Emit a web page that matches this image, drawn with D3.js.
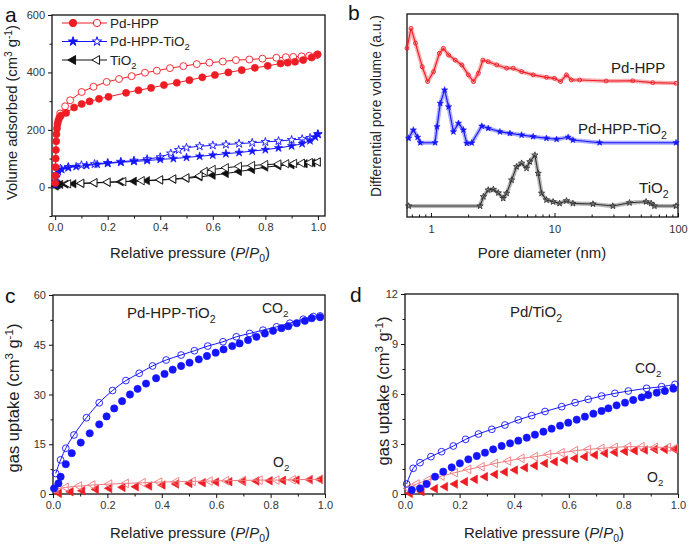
<!DOCTYPE html>
<html><head><meta charset="utf-8">
<script src="https://cdn.jsdelivr.net/npm/d3@7"></script>
<style>body{margin:0;background:#fff}svg{font-family:"Liberation Sans",Arial,sans-serif}</style>
</head><body><svg id="c" width="694" height="547"></svg>
<script>
// ================= DATA =================
// Panel a: N2 isotherms  [P/P0, cm3 g-1]
const aPdHppAds = [[0.0005,15],[0.001,40],[0.0015,70],[0.002,100],[0.003,130],[0.004,160],[0.005,185],[0.007,205],[0.009,220],[0.012,232],[0.016,242],[0.022,250],[0.042,259],[0.072,278],[0.101,290],[0.131,299],[0.167,308],[0.203,315],[0.27,329],[0.317,338],[0.365,346],[0.414,356],[0.463,364],[0.511,373],[0.56,383],[0.608,391],[0.659,400],[0.71,408],[0.76,416],[0.809,423],[0.858,431],[0.885,434],[0.913,437],[0.944,443],[0.976,452],[0.999,463]];
const aPdHppDes = [[0.995,460],[0.967,458],[0.938,456],[0.906,454],[0.878,453],[0.842,451],[0.789,448],[0.739,445],[0.688,443],[0.638,438],[0.587,434],[0.539,429],[0.488,422],[0.437,415],[0.387,406],[0.342,399],[0.291,387],[0.243,377],[0.196,367],[0.146,350],[0.101,332],[0.057,303],[0.038,282],[0.019,257]];
const aHppTiAds = [[0.001,8],[0.002,20],[0.004,35],[0.007,47],[0.012,55],[0.025,62],[0.05,68],[0.08,72],[0.12,76],[0.16,80],[0.2,83],[0.25,87],[0.3,90],[0.35,93],[0.4,97],[0.45,100],[0.5,104],[0.55,108],[0.6,112],[0.65,117],[0.7,121],[0.75,126],[0.8,131],[0.85,137],[0.9,144],[0.94,152],[0.97,162],[0.99,175],[1.0,185]];
const aHppTiDes = [[1.0,185],[0.97,172],[0.94,168],[0.9,165],[0.85,161],[0.8,158],[0.75,155],[0.7,152],[0.65,149],[0.6,146],[0.55,143],[0.5,138],[0.47,130],[0.44,118],[0.4,105],[0.35,98],[0.3,93],[0.25,89],[0.2,85],[0.15,81],[0.1,77],[0.05,71],[0.02,65]];
const aTiAds = [[0.002,4],[0.005,7],[0.01,9],[0.02,10],[0.04,11],[0.07,12],[0.1,13],[0.15,15],[0.2,17],[0.25,19],[0.3,21],[0.35,23],[0.4,25],[0.45,28],[0.5,31],[0.55,36],[0.6,42],[0.65,48],[0.7,55],[0.75,62],[0.8,70],[0.85,75],[0.9,78],[0.95,82],[0.98,85],[1.0,88]];
const aTiDes = [[1.0,88],[0.97,86],[0.94,84],[0.91,83],[0.88,82],[0.85,81],[0.8,79],[0.75,76],[0.7,73],[0.65,68],[0.6,62],[0.57,55],[0.55,40],[0.5,33],[0.45,29],[0.4,26],[0.33,23],[0.26,20],[0.2,18],[0.15,16],[0.1,14],[0.05,12]];
const aYTicks = [0,200,400,600];
const aYMinor = [-100,100,300,500];

// Panel b: pore size distributions  [nm, a.u.]
const bPdHpp = [[0.64,83.1],[0.69,93.0],[0.75,85.6],[0.85,74.0],[0.94,66.7],[1.05,71.6],[1.17,80.6],[1.26,83.1],[1.39,79.8],[1.57,77.3],[1.78,74.9],[2.01,70.0],[2.21,66.7],[2.42,70.8],[2.63,77.3],[2.91,76.5],[3.41,74.9],[4.10,73.3],[4.63,73.3],[5.42,71.6],[6.72,70.0],[8.61,68.8],[10.0,68.3],[11.2,66.7],[12.5,70.0],[13.7,67.5],[16.0,67.5],[26.2,67.0],[43,67.1],[62.4,66.2],[96.4,65.9]];
const bHppTi = [[0.66,38.8],[0.72,42.9],[0.78,39.3],[0.82,36.6],[1.08,36.6],[1.12,44.5],[1.19,56.0],[1.29,62.6],[1.39,54.3],[1.52,42.0],[1.67,46.2],[1.83,42.9],[1.95,36.3],[2.14,36.5],[2.58,44.8],[2.91,43.7],[3.62,42.0],[4.36,41.2],[5.42,40.4],[6.72,39.6],[8.61,38.8],[10.4,38.3],[12.9,39.3],[14.1,37.9],[23.2,36.6],[96.4,36.6]];
const bTi = [[0.66,5.4],[2.50,5.4],[2.66,10.0],[2.91,13.3],[3.20,13.6],[3.51,11.9],[3.85,9.2],[4.10,11.7],[4.50,18.2],[4.94,24.8],[5.42,26.5],[5.94,24.0],[6.32,27.2],[6.94,30.5],[7.38,21.5],[7.86,11.7],[8.61,8.4],[9.75,7.5],[11.0,6.7],[12.5,8.0],[14.1,6.7],[20.5,6.4],[29.7,5.4],[40.5,7.0],[55.2,7.5],[60.6,6.7],[64.4,5.4],[96.4,5.4]];
const bXTicks = [1,10,100];
const bXMinor = [0.7,0.8,0.9,2,3,4,5,6,7,8,9,20,30,40,50,60,70,80,90];

// Panel c: Pd-HPP-TiO2 gas uptake [P/P0, cm3 g-1]
const cCo2Ads = [[0.004,1.7],[0.02,3.2],[0.028,5.2],[0.047,9.0],[0.069,12.3],[0.102,15.5],[0.135,18.3],[0.17,21.0],[0.197,23.4],[0.225,25.8],[0.254,28.0],[0.283,30.0],[0.311,31.7],[0.342,33.3],[0.379,34.9],[0.41,36.2],[0.44,37.5],[0.471,38.6],[0.502,39.6],[0.536,40.6],[0.566,41.6],[0.598,42.6],[0.627,43.6],[0.659,44.6],[0.686,45.4],[0.717,46.4],[0.748,47.4],[0.779,48.4],[0.809,49.2],[0.84,50.0],[0.865,50.6],[0.896,51.5],[0.926,52.2],[0.951,53.0],[0.982,53.3]];
const cCo2Des = [[0.01,6.2],[0.028,10.3],[0.047,13.8],[0.077,17.8],[0.123,23.0],[0.17,27.5],[0.219,31.2],[0.268,34.2],[0.317,36.4],[0.366,38.6],[0.416,40.4],[0.471,41.9],[0.52,43.2],[0.569,44.6],[0.625,45.9],[0.674,47.4],[0.723,48.4],[0.772,49.4],[0.822,50.4],[0.871,51.5],[0.92,52.7],[0.957,53.5],[0.982,53.7]];
const cO2Ads = [[0.022,0.2],[0.065,0.7],[0.108,1.0],[0.158,1.4],[0.207,1.7],[0.256,2.0],[0.305,2.2],[0.354,2.4],[0.403,2.7],[0.453,3.0],[0.502,3.2],[0.551,3.4],[0.6,3.6],[0.649,3.7],[0.699,3.8],[0.748,3.9],[0.797,4.0],[0.846,4.1],[0.896,4.2],[0.945,4.3],[0.982,4.4]];
const cO2Des = [[0.01,1.4],[0.047,2.0],[0.096,2.4],[0.145,2.7],[0.207,3.0],[0.268,3.2],[0.33,3.4],[0.391,3.6],[0.453,3.7],[0.514,3.8],[0.576,3.9],[0.637,4.0],[0.699,4.1],[0.76,4.2],[0.822,4.2],[0.882,4.3],[0.945,4.4],[0.982,4.4]];
const cYTicks = [0,15,30,45,60];
const cYMinor = [7.5,22.5,37.5,52.5];

// Panel d: Pd/TiO2 gas uptake [P/P0, cm3 g-1]
const dCo2Ads = [[0.025,0.24],[0.055,0.34],[0.079,0.6],[0.11,1.04],[0.14,1.34],[0.171,1.6],[0.201,1.84],[0.232,2.08],[0.263,2.28],[0.293,2.48],[0.323,2.68],[0.354,2.88],[0.385,3.04],[0.415,3.2],[0.446,3.38],[0.476,3.56],[0.507,3.74],[0.537,3.92],[0.568,4.1],[0.598,4.28],[0.629,4.46],[0.659,4.64],[0.69,4.82],[0.72,4.98],[0.745,5.14],[0.775,5.32],[0.806,5.48],[0.836,5.64],[0.867,5.8],[0.891,5.94],[0.922,6.08],[0.952,6.18],[0.983,6.32]];
const dCo2Des = [[0.006,0.6],[0.03,1.54],[0.055,1.88],[0.095,2.24],[0.134,2.54],[0.177,2.88],[0.222,3.28],[0.269,3.6],[0.318,3.88],[0.366,4.14],[0.415,4.45],[0.464,4.7],[0.513,4.95],[0.574,5.24],[0.623,5.48],[0.671,5.68],[0.72,5.88],[0.769,6.04],[0.818,6.18],[0.885,6.34],[0.94,6.44],[0.989,6.58]];
const dO2Ads = [[0.018,0.04],[0.061,0.14],[0.11,0.32],[0.147,0.44],[0.183,0.6],[0.22,0.74],[0.256,0.88],[0.293,1.04],[0.33,1.18],[0.366,1.32],[0.403,1.44],[0.44,1.58],[0.476,1.7],[0.513,1.84],[0.549,1.94],[0.586,2.04],[0.623,2.14],[0.659,2.24],[0.696,2.34],[0.733,2.44],[0.769,2.5],[0.806,2.56],[0.842,2.6],[0.879,2.64],[0.916,2.68],[0.952,2.68],[0.989,2.68]];
const dO2Des = [[0.012,0.34],[0.043,0.6],[0.085,0.84],[0.134,1.08],[0.183,1.28],[0.232,1.48],[0.281,1.64],[0.33,1.84],[0.378,1.98],[0.427,2.14],[0.476,2.24],[0.525,2.38],[0.574,2.48],[0.623,2.6],[0.671,2.68],[0.72,2.74],[0.769,2.8],[0.818,2.84],[0.867,2.84],[0.916,2.8],[0.964,2.8],[0.989,2.74]];
const dYTicks = [0,3,6,9,12];
const dYMinor = [1.5,4.5,7.5,10.5];

const pXTicks = [0,0.2,0.4,0.6,0.8,1.0];
const pXMinor = [0.1,0.3,0.5,0.7,0.9];

// ================= DRAWING =================
const RED = '#ee1c24', BLUE = '#1414ff', BLK = '#111111', TXT = '#222';
const svg = d3.select('#c');

const triLeft = {draw(ctx, size){
  const a = Math.sqrt(4*size/Math.sqrt(3)), h = a*Math.sqrt(3)/2;
  ctx.moveTo(-2*h/3,0); ctx.lineTo(h/3,-a/2); ctx.lineTo(h/3,a/2); ctx.closePath();
}};

function rich(parent, x, y, parts, fs, opts={}) {
  const t = parent.append('text').attr('x',x).attr('y',y).attr('font-size',fs).attr('fill',opts.fill||TXT);
  if (opts.anchor) t.attr('text-anchor',opts.anchor);
  if (opts.rotate) t.attr('transform',`rotate(-90,${x},${y})`);
  let off = 0;
  parts.forEach(([s,m]) => {
    const target = m.includes('sub') ? fs*0.3 : (m.includes('sup') ? -fs*0.35 : 0);
    const ts = t.append('tspan').text(s).attr('dy', target-off);
    off = target;
    if (m.includes('sub')||m.includes('sup')) ts.attr('font-size', fs*0.7);
    if (m.startsWith('i')) ts.attr('font-style','italic');
  });
  return t;
}
// font size for which a text spans a given length (measured on the page)
function fitSize(parts, len) {
  const t = rich(svg, 0, -50, parts, 13, {});
  const L = t.node().getBBox().width;
  t.remove();
  return 13*len/L;
}

function axes(x, y, xMaj, xMin, yMaj, yMin, xfmt, yfmt, inward) {
  const g = svg.append('g');
  const [x0,x1] = x.range(), [y0,y1] = y.range();
  const s = inward ? -1 : 1;
  g.append('g').attr('transform',`translate(0,${y0})`)
    .call(d3.axisBottom(x).tickValues(xMaj).tickFormat(xfmt).tickSize(4*s).tickPadding(inward?8:3).tickSizeOuter(0));
  g.append('g').attr('transform',`translate(0,${y0})`)
    .call(d3.axisBottom(x).tickValues(xMin).tickFormat('').tickSize(2.5*s).tickSizeOuter(0));
  if (yMaj) {
    g.append('g').attr('transform',`translate(${x0},0)`)
      .call(d3.axisLeft(y).tickValues(yMaj).tickFormat(yfmt).tickSize(4).tickSizeOuter(0));
    g.append('g').attr('transform',`translate(${x0},0)`)
      .call(d3.axisLeft(y).tickValues(yMin).tickFormat('').tickSize(2.5).tickSizeOuter(0));
  }
  g.selectAll('.domain').remove();
  g.selectAll('.tick line').attr('stroke','#111').attr('stroke-width',1);
  g.selectAll('text').attr('font-size',11).attr('fill','#333').attr('font-family','"Liberation Sans",Arial,sans-serif');
  g.append('rect').attr('x',x0).attr('y',y1).attr('width',x1-x0).attr('height',y0-y1)
    .attr('fill','none').attr('stroke','#111').attr('stroke-width',1.3);
  return g;
}

function series(x, y, data, o) {
  const g = svg.append('g');
  if (o.line) {
    g.append('path').datum(data).attr('fill','none').attr('stroke',o.color).attr('stroke-width',o.lw||1)
      .attr('d', d3.line().x(d=>x(d[0])).y(d=>y(d[1])).curve(o.curve||d3.curveLinear));
  }
  const sym = d3.symbol().type(o.type).size(o.size||40);
  g.selectAll('path.m').data(data).join('path').attr('class','m')
    .attr('transform', d=>`translate(${x(d[0])},${y(d[1])})`)
    .attr('d', sym)
    .attr('fill', o.filled ? o.color : (o.bg||'none'))
    .attr('stroke', o.color).attr('stroke-width', o.filled ? 0.6 : 0.9);
  return g;
}

const fmt1 = d3.format('.1f');
const relP = [["Relative pressure (","n"],["P","i"],["/","n"],["P","i"],["0","sub"],[")","n"]];
const gasT = [["gas uptake (cm","n"],["3","sup"],[" g","n"],["-1","sup"],[")","n"]];
const volT = [["Volume adsorbed (cm","n"],["3","sup"],[" g","n"],["-1","sup"],[")","n"]];
const FS_A = fitSize(volT, 175);
const FS_C = Math.min(fitSize(gasT, 150), 16.5);
const FS_X = fitSize(relP, 160);

// ---------- Panel a ----------
{
  const x = d3.scaleLinear().domain([-0.012,1.027]).range([52,325]);
  const y = d3.scaleLinear().domain([-100,600]).range([216,15]);
  axes(x, y, pXTicks, pXMinor, aYTicks, aYMinor, fmt1, d3.format('d'));
  series(x,y,aTiAds,{type:triLeft,color:BLK,filled:true,line:true,size:30});
  series(x,y,aTiDes,{type:triLeft,color:BLK,filled:false,bg:'#fff',line:true,size:30});
  series(x,y,aHppTiDes,{type:d3.symbolStar,color:BLUE,filled:false,bg:'#fff',line:true,size:22});
  series(x,y,aHppTiAds,{type:d3.symbolStar,color:BLUE,filled:true,line:true,size:22});
  series(x,y,aPdHppDes,{type:d3.symbolCircle,color:RED,filled:false,bg:'#fff',line:true,size:38});
  series(x,y,aPdHppAds,{type:d3.symbolCircle,color:RED,filled:true,line:true,size:40});
  // legend
  const lg = svg.append('g');
  const rows = [
    {c:RED,t:d3.symbolCircle,s:42,lab:[["Pd-HPP","n"]]},
    {c:BLUE,t:d3.symbolStar,s:26,lab:[["Pd-HPP-TiO","n"],["2","sub"]]},
    {c:BLK,t:triLeft,s:34,lab:[["TiO","n"],["2","sub"]]}
  ];
  rows.forEach((r,i)=>{
    const yy = 23 + i*18.5;
    lg.append('line').attr('x1',62).attr('x2',107).attr('y1',yy).attr('y2',yy).attr('stroke',r.c).attr('stroke-width',1);
    lg.append('path').attr('transform',`translate(73,${yy})`).attr('d',d3.symbol().type(r.t).size(r.s)()).attr('fill',r.c).attr('stroke',r.c);
    lg.append('path').attr('transform',`translate(97,${yy})`).attr('d',d3.symbol().type(r.t).size(r.s)()).attr('fill','#fff').attr('stroke',r.c);
    rich(lg,110,yy+4.6,r.lab,13.5);
  });
  rich(svg,17,112.5,volT,FS_A,{anchor:'middle',rotate:true});
  rich(svg,190,258,relP,FS_X,{anchor:'middle'});
  svg.append('text').attr('x',5).attr('y',22).attr('font-size',21).attr('fill','#111').text('a');
}

// ---------- Panel b ----------
{
  const x = d3.scaleLog().domain([0.64,100]).range([407,678]);
  const y = d3.scaleLinear().domain([0,100]).range([217,14]);
  axes(x, y, bXTicks, bXMinor, null, null, d3.format('d'), null, true);
  const pb = [[bPdHpp,RED,d3.symbolCircle,false],[bHppTi,BLUE,d3.symbolStar,true],[bTi,'#333',d3.symbolStar,false]];
  pb.forEach(([data,col,t,filled])=>{
    const line = d3.line().x(d=>x(d[0])).y(d=>y(d[1]));
    svg.append('path').datum(data).attr('fill','none').attr('stroke',col).attr('stroke-width',4.5)
      .attr('stroke-opacity',0.35).attr('stroke-dasharray','0.1 2.6').attr('stroke-linecap','round').attr('d',line);
    series(x,y,data,{type:t,color:col,filled:filled,line:true,size:12,lw:1.1});
  });
  const fsb = fitSize([["Pd-HPP-TiO","n"],["2","sub"]], 89);
  rich(svg,611,73,[["Pd-HPP","n"]],fsb);
  rich(svg,578,134,[["Pd-HPP-TiO","n"],["2","sub"]],fsb);
  rich(svg,639,193,[["TiO","n"],["2","sub"]],fsb);
  rich(svg,381,106,[["Differential pore volume (a.u.)","n"]],fitSize([["Differential pore volume (a.u.)","n"]],182),{anchor:'middle',rotate:true});
  rich(svg,542,258,[["Pore diameter (nm)","n"]],FS_X,{anchor:'middle'});
  svg.append('text').attr('x',348).attr('y',20).attr('font-size',21).attr('fill','#111').text('b');
}

// ---------- Panel c ----------
{
  const x = d3.scaleLinear().domain([0,1]).range([53,325]);
  const y = d3.scaleLinear().domain([0,60]).range([494,295]);
  axes(x, y, pXTicks, pXMinor, cYTicks, cYMinor, fmt1, d3.format('d'));
  series(x,y,cO2Ads,{type:triLeft,color:RED,filled:true,line:false,size:32});
  series(x,y,cO2Des,{type:triLeft,color:'#f07a7e',filled:false,line:true,curve:d3.curveMonotoneX,size:32});
  series(x,y,cCo2Ads,{type:d3.symbolCircle,color:BLUE,filled:true,line:false,size:42});
  series(x,y,cCo2Des,{type:d3.symbolCircle,color:BLUE,filled:false,line:true,curve:d3.curveMonotoneX,size:36});
  rich(svg,127,318,[["Pd-HPP-TiO","n"],["2","sub"]],15);
  rich(svg,262,313,[["CO","n"],["2","sub"]],14);
  rich(svg,273,467,[["O","n"],["2","sub"]],14);
  rich(svg,18.5,398,gasT,FS_C,{anchor:'middle',rotate:true});
  rich(svg,190,538,relP,FS_X,{anchor:'middle'});
  svg.append('text').attr('x',5).attr('y',303).attr('font-size',21).attr('fill','#111').text('c');
}

// ---------- Panel d ----------
{
  const x = d3.scaleLinear().domain([0,1]).range([405,678]);
  const y = d3.scaleLinear().domain([0,12]).range([494,294]);
  axes(x, y, pXTicks, pXMinor, dYTicks, dYMinor, fmt1, d3.format('d'));
  series(x,y,dO2Ads,{type:triLeft,color:RED,filled:true,line:false,size:32});
  series(x,y,dO2Des,{type:triLeft,color:'#f07a7e',filled:false,line:true,curve:d3.curveMonotoneX,size:32});
  series(x,y,dCo2Ads,{type:d3.symbolCircle,color:BLUE,filled:true,line:false,size:42});
  series(x,y,dCo2Des,{type:d3.symbolCircle,color:BLUE,filled:false,line:true,curve:d3.curveMonotoneX,size:36});
  rich(svg,510,317,[["Pd/TiO","n"],["2","sub"]],15);
  rich(svg,635,373,[["CO","n"],["2","sub"]],14);
  rich(svg,647,482,[["O","n"],["2","sub"]],14);
  rich(svg,389,391,gasT,FS_C,{anchor:'middle',rotate:true});
  rich(svg,544,538,relP,FS_X,{anchor:'middle'});
  svg.append('text').attr('x',350).attr('y',302).attr('font-size',21).attr('fill','#111').text('d');
}
</script></body></html>
